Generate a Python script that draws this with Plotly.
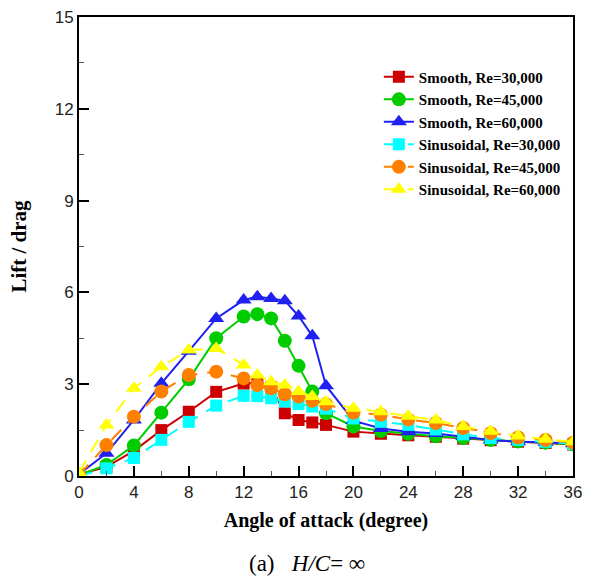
import plotly.graph_objects as go

angles = [0, 2, 4, 6, 8, 10, 12, 13, 14, 15, 16, 17, 18, 20, 22, 24, 26, 28, 30, 32, 34, 36]

smooth_30 = [0.05, 0.30, 0.82, 1.50, 2.10, 2.75, 3.02, 3.05, 2.90, 2.05, 1.83, 1.75, 1.67, 1.45, 1.38, 1.33, 1.28, 1.22, 1.17, 1.12, 1.08, 1.03]
smooth_45 = [0.03, 0.36, 1.00, 2.07, 3.16, 4.50, 5.21, 5.29, 5.15, 4.42, 3.60, 2.76, 2.05, 1.62, 1.47, 1.38, 1.30, 1.24, 1.18, 1.13, 1.09, 1.04]
smooth_60 = [0.06, 0.74, 1.83, 3.03, 4.08, 5.15, 5.75, 5.86, 5.80, 5.73, 5.23, 4.58, 2.95, 1.81, 1.55, 1.45, 1.39, 1.29, 1.18, 1.12, 1.10, 1.05]
sinus_30 = [0.00, 0.25, 0.59, 1.18, 1.77, 2.30, 2.62, 2.61, 2.54, 2.43, 2.35, 2.27, 2.20, 1.88, 1.77, 1.67, 1.52, 1.36, 1.24, 1.18, 1.12, 1.05]
sinus_45 = [0.03, 1.01, 1.94, 2.76, 3.30, 3.41, 3.19, 2.97, 2.87, 2.67, 2.60, 2.46, 2.35, 2.07, 2.00, 1.85, 1.73, 1.57, 1.40, 1.26, 1.18, 1.09]
sinus_60 = [0.10, 1.67, 2.87, 3.57, 4.12, 4.17, 3.63, 3.30, 3.08, 2.97, 2.76, 2.60, 2.43, 2.21, 2.10, 1.95, 1.83, 1.62, 1.46, 1.31, 1.20, 1.12]

series = [
    ("Smooth, Re=30,000", smooth_30, "#CC0000", "square", "solid", 12),
    ("Smooth, Re=45,000", smooth_45, "#00CC00", "circle", "solid", 14),
    ("Smooth, Re=60,000", smooth_60, "#2020F0", "triangle-up", "solid", 14),
    ("Sinusoidal, Re=30,000", sinus_30, "#00FFFF", "square", "14px,10px", 12),
    ("Sinusoidal, Re=45,000", sinus_45, "#FF8000", "circle", "14px,10px", 14),
    ("Sinusoidal, Re=60,000", sinus_60, "#FFFF00", "triangle-up", "14px,10px", 14),
]

fig = go.Figure()
for name, vals, color, sym, dash, size in series:
    fig.add_trace(go.Scatter(
        x=angles, y=vals, name=name, mode="lines+markers",
        line=dict(color=color, width=2, dash=dash),
        marker=dict(symbol=sym, size=size, color=color, line=dict(width=0)),
    ))

serif = "Liberation Serif"
fig.update_layout(
    width=590, height=577,
    margin=dict(l=79, r=8, t=17, b=101),
    plot_bgcolor="white", paper_bgcolor="white",
    showlegend=True,
    legend=dict(x=0.607, y=0.905, xanchor="left", yanchor="top",
                font=dict(family=serif, size=15, color="black", weight="bold"),
                bgcolor="rgba(0,0,0,0)", tracegroupgap=0, itemwidth=30),
    xaxis=dict(range=[0, 36], tickvals=list(range(0, 37, 4)),
               ticks="inside", ticklen=10, tickwidth=2, tickcolor="black",
               minor=dict(ticks="inside", ticklen=5, tickwidth=1, tickcolor="#555", dtick=2, tick0=0),
               showline=True, linewidth=2, linecolor="black", mirror=True,
               showgrid=False, zeroline=False,
               tickfont=dict(family="Liberation Sans", size=17, color="#222"),
               title=dict(text="<b>Angle of attack (degree)</b>", standoff=12,
                          font=dict(family=serif, size=20, color="black"))),
    yaxis=dict(range=[0, 15], tickvals=list(range(0, 16, 3)),
               ticks="inside", ticklen=10, tickwidth=2, tickcolor="black",
               minor=dict(ticks="inside", ticklen=5, tickwidth=1, tickcolor="#555", dtick=1.5, tick0=0),
               showline=True, linewidth=2, linecolor="black", mirror=True,
               showgrid=False, zeroline=False,
               tickfont=dict(family="Liberation Sans", size=17, color="#222"),
               title=dict(text="<b>Lift / drag</b>", standoff=22,
                          font=dict(family=serif, size=21, color="black"))),
    annotations=[dict(text="(a)   <i>H/C</i>= ∞", xref="paper", yref="paper",
                      x=0.461, y=-0.19, xanchor="center", yanchor="middle", showarrow=False,
                      font=dict(family=serif, size=23, color="black"))],
)

fig.write_html("out.html")
